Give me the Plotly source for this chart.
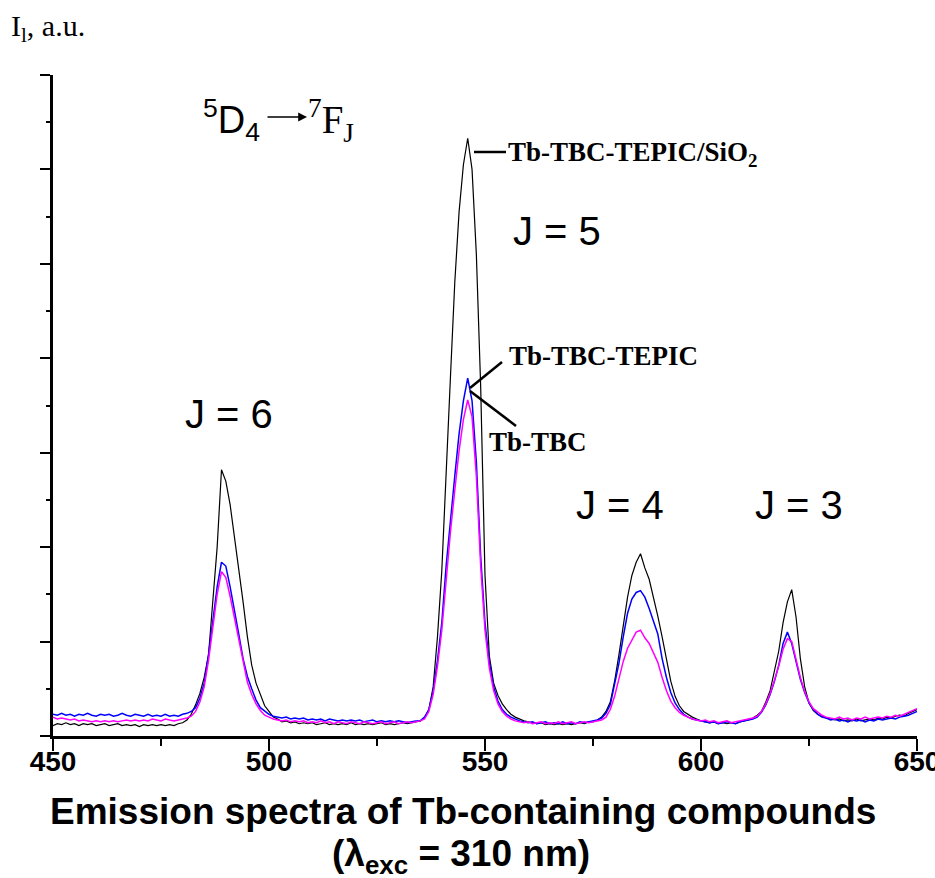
import plotly.graph_objects as go

# Wavelength grid (nm), 1 nm sampling
wavelength = list(range(450, 651))

# Tb-TBC-TEPIC/SiO2 (black)
tb_tbc_tepic_sio2 = [
    0.11, 0.13, 0.12, 0.14, 0.12, 0.13, 0.11, 0.13, 0.12, 0.13,  # 450-459
    0.11, 0.12, 0.13, 0.11, 0.12, 0.13, 0.11, 0.12, 0.11, 0.12,  # 460-469
    0.10, 0.12, 0.11, 0.12, 0.11, 0.12, 0.11, 0.12, 0.11, 0.13,  # 470-479
    0.14, 0.17, 0.23, 0.33, 0.45, 0.62, 0.86, 1.40, 2.00, 2.82,  # 480-489
    2.70, 2.45, 2.12, 1.80, 1.42, 1.05, 0.75, 0.56, 0.43, 0.32,  # 490-499
    0.26, 0.20, 0.18, 0.15, 0.16, 0.14, 0.15, 0.13, 0.14, 0.13,  # 500-509
    0.14, 0.12, 0.13, 0.14, 0.12, 0.13, 0.12, 0.13, 0.12, 0.14,  # 510-519
    0.12, 0.13, 0.12, 0.13, 0.12, 0.13, 0.14, 0.12, 0.13, 0.12,  # 520-529
    0.13, 0.14, 0.13, 0.14, 0.15, 0.16, 0.19, 0.28, 0.52, 1.05,  # 530-539
    1.75, 2.70, 3.80, 4.80, 5.55, 6.05, 6.33, 6.00, 5.10, 3.70,  # 540-549
    1.70, 0.85, 0.56, 0.43, 0.34, 0.28, 0.23, 0.20, 0.18, 0.16,  # 550-559
    0.15, 0.14, 0.13, 0.14, 0.12, 0.13, 0.12, 0.13, 0.12, 0.13,  # 560-569
    0.12, 0.13, 0.14, 0.13, 0.15, 0.15, 0.17, 0.20, 0.26, 0.36,  # 570-579
    0.58, 0.86, 1.15, 1.47, 1.70, 1.84, 1.93, 1.78, 1.66, 1.48,  # 580-589
    1.27, 1.05, 0.80, 0.58, 0.42, 0.32, 0.26, 0.23, 0.20, 0.18,  # 590-599
    0.16, 0.15, 0.14, 0.15, 0.13, 0.14, 0.13, 0.14, 0.13, 0.15,  # 600-609
    0.16, 0.17, 0.19, 0.22, 0.26, 0.36, 0.48, 0.68, 0.90, 1.20,  # 610-619
    1.42, 1.55, 1.26, 0.82, 0.52, 0.35, 0.27, 0.23, 0.21, 0.19,  # 620-629
    0.18, 0.17, 0.18, 0.16, 0.17, 0.16, 0.18, 0.16, 0.17, 0.18,  # 630-639
    0.17, 0.19, 0.18, 0.20, 0.19, 0.21, 0.22, 0.21, 0.24, 0.26,  # 640-649
    0.28,                                                        # 650
]

# Tb-TBC-TEPIC (blue)
tb_tbc_tepic = [
    0.23, 0.22, 0.24, 0.22, 0.23, 0.21, 0.23, 0.22, 0.24, 0.22,
    0.21, 0.23, 0.22, 0.23, 0.21, 0.22, 0.24, 0.22, 0.21, 0.23,
    0.22, 0.21, 0.23, 0.21, 0.22, 0.21, 0.23, 0.21, 0.22, 0.21,
    0.23, 0.24, 0.26, 0.30, 0.40, 0.56, 0.86, 1.22, 1.58, 1.84,
    1.80, 1.58, 1.35, 1.08, 0.82, 0.63, 0.50, 0.38, 0.30, 0.26,
    0.23, 0.21, 0.20, 0.19, 0.20, 0.18, 0.19, 0.18, 0.19, 0.17,
    0.18, 0.17, 0.18, 0.16, 0.18, 0.17, 0.16, 0.17, 0.16, 0.17,
    0.16, 0.17, 0.15, 0.16, 0.17, 0.15, 0.16, 0.15, 0.16, 0.15,
    0.16, 0.15, 0.14, 0.15, 0.16, 0.16, 0.20, 0.28, 0.48, 0.80,
    1.20, 1.80, 2.30, 2.75, 3.20, 3.55, 3.79, 3.55, 2.90, 1.90,
    1.20, 0.78, 0.52, 0.37, 0.28, 0.23, 0.20, 0.18, 0.16, 0.15,
    0.14, 0.15, 0.13, 0.14, 0.15, 0.13, 0.14, 0.13, 0.15, 0.13,
    0.14, 0.13, 0.15, 0.14, 0.15, 0.16, 0.17, 0.19, 0.24, 0.33,
    0.54, 0.77, 1.05, 1.30, 1.45, 1.52, 1.54, 1.47, 1.35, 1.22,
    1.08, 0.82, 0.62, 0.46, 0.35, 0.28, 0.23, 0.20, 0.18, 0.17,
    0.16, 0.15, 0.14, 0.15, 0.13, 0.14, 0.15, 0.14, 0.13, 0.15,
    0.16, 0.17, 0.18, 0.20, 0.25, 0.33, 0.44, 0.58, 0.75, 0.98,
    1.10, 0.98, 0.78, 0.60, 0.46, 0.35, 0.28, 0.23, 0.20, 0.19,
    0.17, 0.18, 0.16, 0.17, 0.15, 0.17, 0.16, 0.17, 0.15, 0.17,
    0.16, 0.18, 0.17, 0.18, 0.19, 0.18, 0.20, 0.21, 0.22, 0.24,
    0.26,
]

# Tb-TBC (magenta)
tb_tbc = [
    0.20, 0.18, 0.19, 0.18, 0.17, 0.18, 0.16, 0.17, 0.16, 0.15,
    0.16, 0.15, 0.16, 0.15, 0.16, 0.15, 0.16, 0.17, 0.16, 0.17,
    0.16, 0.17, 0.16, 0.18, 0.17, 0.16, 0.18, 0.17, 0.16, 0.17,
    0.18, 0.19, 0.21, 0.26, 0.36, 0.52, 0.80, 1.15, 1.50, 1.74,
    1.68, 1.48, 1.25, 1.00, 0.76, 0.57, 0.44, 0.34, 0.27, 0.22,
    0.20, 0.18, 0.17, 0.16, 0.17, 0.15, 0.16, 0.15, 0.16, 0.14,
    0.15, 0.14, 0.16, 0.14, 0.15, 0.13, 0.15, 0.14, 0.13, 0.15,
    0.14, 0.13, 0.15, 0.14, 0.13, 0.14, 0.15, 0.13, 0.14, 0.15,
    0.13, 0.14, 0.15, 0.14, 0.15, 0.16, 0.18, 0.26, 0.44, 0.74,
    1.12, 1.68, 2.16, 2.60, 3.02, 3.35, 3.56, 3.38, 2.75, 1.80,
    1.12, 0.72, 0.48, 0.34, 0.26, 0.21, 0.18, 0.16, 0.15, 0.14,
    0.15, 0.13, 0.14, 0.15, 0.13, 0.14, 0.13, 0.15, 0.13, 0.14,
    0.15, 0.13, 0.14, 0.15, 0.14, 0.15, 0.16, 0.17, 0.20, 0.28,
    0.42, 0.60, 0.79, 0.93, 1.02, 1.10, 1.12, 1.04, 0.98, 0.88,
    0.78, 0.62, 0.48, 0.37, 0.30, 0.25, 0.22, 0.20, 0.18, 0.17,
    0.16, 0.17, 0.15, 0.16, 0.14, 0.15, 0.16, 0.14, 0.15, 0.16,
    0.17, 0.18, 0.19, 0.21, 0.26, 0.34, 0.45, 0.59, 0.74, 0.92,
    1.03, 1.00, 0.80, 0.62, 0.47, 0.36, 0.29, 0.25, 0.22, 0.20,
    0.19, 0.18, 0.20, 0.18, 0.19, 0.17, 0.19, 0.18, 0.20, 0.18,
    0.19, 0.20, 0.19, 0.21, 0.20, 0.22, 0.21, 0.23, 0.25, 0.27,
    0.29,
]

x_ticks = [450, 500, 550, 600, 650]
x_tick_labels = ["450", "500", "550", "600", "650"]

W, H = 935, 878
L, R, T, B = 53, 917, 75, 736


def px(xp):
    return (xp - L) / (R - L)


def py(yp):
    return (B - yp) / (B - T)


SANS = "Liberation Sans, Arial, sans-serif"
SERIF = "Liberation Serif, Times New Roman, serif"

fig = go.Figure()
fig.add_trace(go.Scatter(x=wavelength, y=tb_tbc_tepic_sio2, mode="lines",
                         line=dict(color="#000000", width=1.2), name="Tb-TBC-TEPIC/SiO2"))
fig.add_trace(go.Scatter(x=wavelength, y=tb_tbc_tepic, mode="lines",
                         line=dict(color="#0000FF", width=1.5), name="Tb-TBC-TEPIC"))
fig.add_trace(go.Scatter(x=wavelength, y=tb_tbc, mode="lines",
                         line=dict(color="#FF00FF", width=1.5), name="Tb-TBC"))

ann = []


def add(text, x, y, size, family, xanchor="center", yanchor="middle", bold=False):
    ann.append(dict(text=text, x=px(x), y=py(y), xref="paper", yref="paper",
                    showarrow=False, xanchor=xanchor, yanchor=yanchor,
                    font=dict(size=size, family=family, color="black",
                              weight="bold" if bold else "normal")))


add("I<sub>l</sub>, a.u.", 9, 28, 30, SERIF, xanchor="left")
add("<sup>5</sup>D<sub>4</sub>", 201, 120, 38, SANS, xanchor="left")
add("<sup>7</sup>F<sub>J</sub>", 306, 120, 39, SERIF, xanchor="left")
# transition arrow (drawn from 266 px to 307 px)
ann.append(dict(text="", x=px(307), y=py(117), ax=-41, ay=0,
                xref="paper", yref="paper", axref="pixel", ayref="pixel",
                showarrow=True, arrowhead=2, arrowsize=1.1, arrowwidth=1.6,
                arrowcolor="black", standoff=0, startstandoff=0))
add("J = 6", 229, 414, 40, SANS)
add("J = 5", 557, 231, 40, SANS)
add("J = 4", 620, 505, 40, SANS)
add("J = 3", 799, 505, 40, SANS)
add("Tb-TBC-TEPIC/SiO<sub>2</sub>", 506, 154, 27, SERIF, xanchor="left", bold=True)
add("Tb-TBC-TEPIC", 507, 356, 27, SERIF, xanchor="left", bold=True)
add("Tb-TBC", 487, 442, 27, SERIF, xanchor="left", bold=True)
add("Emission spectra of Tb-containing compounds", 463, 811, 37, SANS, bold=True)
add("(λ<sub>exc</sub> = 310 nm)", 461, 856, 37, SANS, bold=True)

shapes = []
for (x0, y0, x1, y1) in [(474, 152, 506, 152), (470, 388, 502, 362), (470, 391, 516, 426)]:
    shapes.append(dict(type="line", xref="paper", yref="paper",
                       x0=px(x0), y0=py(y0), x1=px(x1), y1=py(y1),
                       line=dict(color="black", width=2.5)))

fig.update_layout(
    width=W, height=H,
    margin=dict(l=L, r=W - R, t=T, b=H - B, pad=0, autoexpand=False),
    paper_bgcolor="white", plot_bgcolor="white",
    showlegend=False,
    annotations=ann, shapes=shapes,
    xaxis=dict(range=[450, 650], tickvals=x_ticks, ticktext=x_tick_labels,
               automargin=False,
               showgrid=False, zeroline=False, showline=True, linecolor="black",
               linewidth=2.5, ticks="outside", ticklen=12, tickwidth=2.2, tickcolor="black",
               ticklabeloverflow="allow", ticklabelstandoff=-13,
               tickfont=dict(family=SANS, size=28, color="black", weight="bold"),
               minor=dict(dtick=25, ticklen=7, tickwidth=2, tickcolor="black", ticks="outside")),
    yaxis=dict(range=[0, 7], dtick=1, showticklabels=False, automargin=False,
               showgrid=False, zeroline=False, showline=True, linecolor="black",
               linewidth=2.5, ticks="outside", ticklen=10, tickwidth=2.2, tickcolor="black",
               minor=dict(dtick=0.5, ticklen=4, tickwidth=2, tickcolor="black", ticks="outside")),
)

fig.write_html("out.html")
